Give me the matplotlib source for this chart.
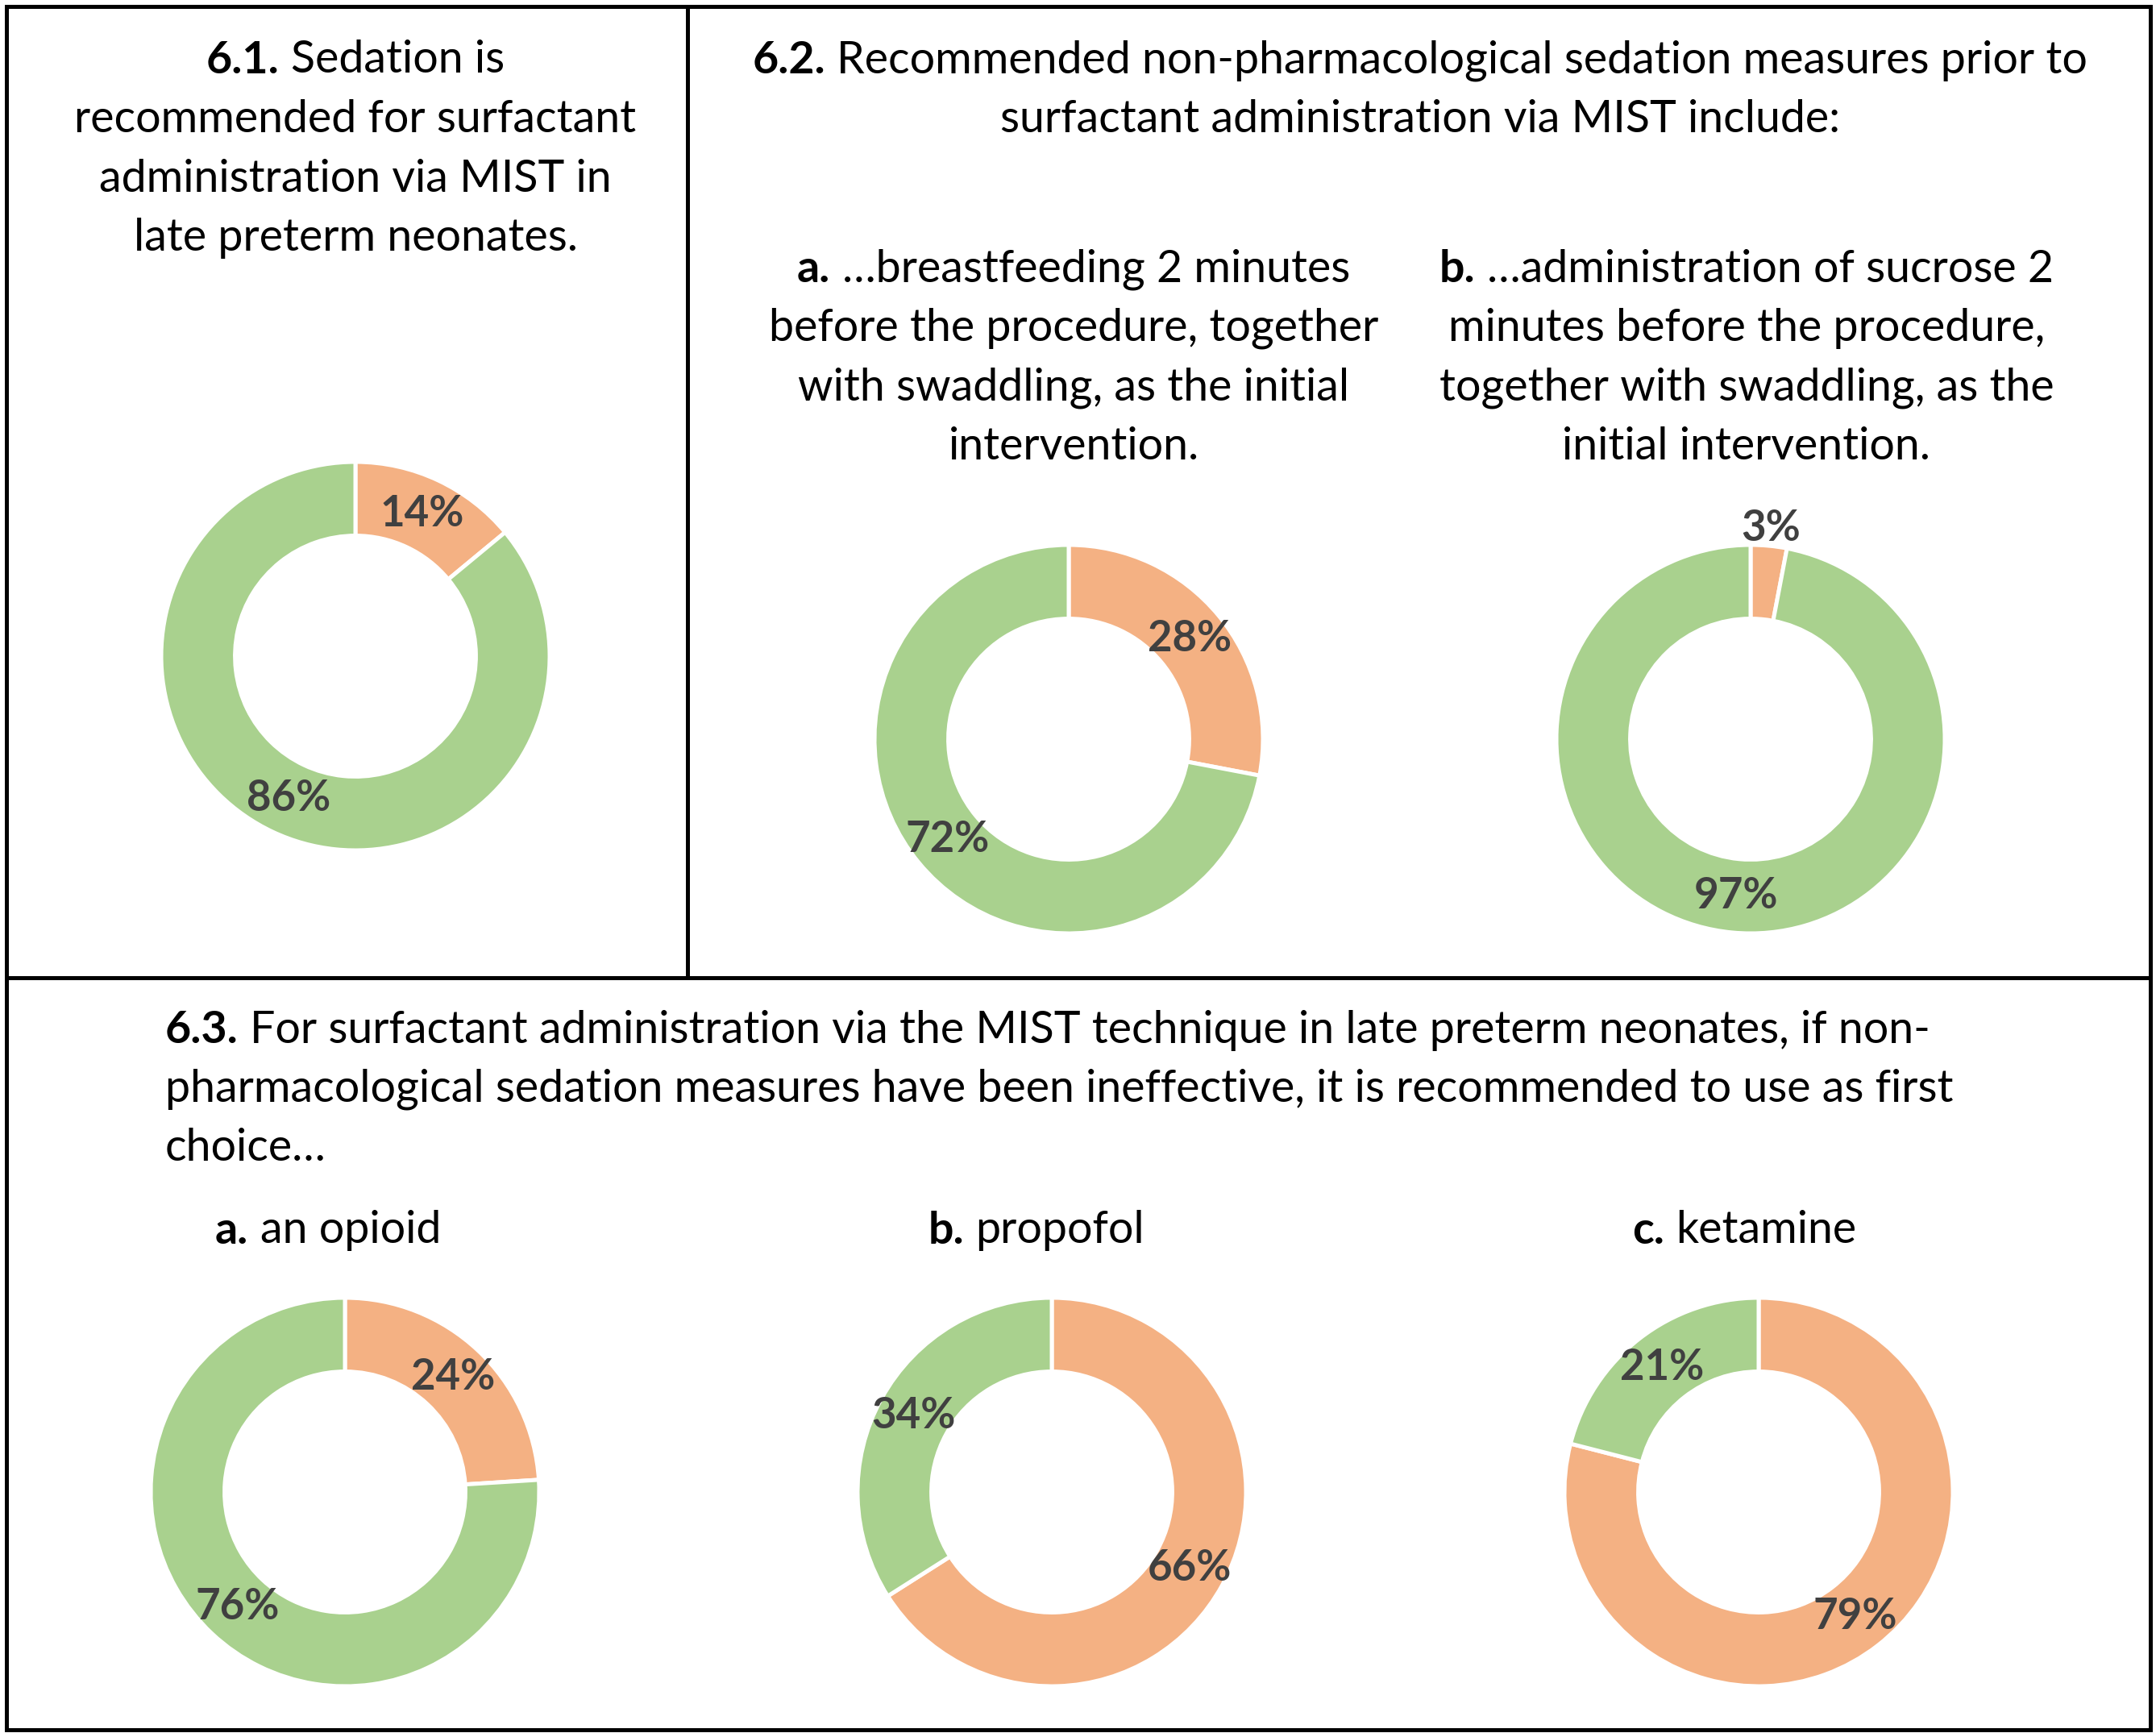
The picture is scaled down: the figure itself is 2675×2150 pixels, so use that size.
import numpy as np
import matplotlib
matplotlib.use('Agg')
import matplotlib.pyplot as plt

## Tamanho da figura em pixels (dpi = 100)
W, H = 2675, 2150
plt.rcParams['font.family'] = ['Lato', 'DejaVu Sans']

## Dados (percentagens) - laranja = discordo, verde = concordo
chart_names = ['6.1', '6.2a', '6.2b', '6.3a', '6.3b', '6.3c']
orange_share = [14, 28, 3, 24, 66, 79]
green_share = [86, 72, 97, 76, 34, 21]
slice_colors = ['#F4B183', '#A9D18E']
label_color = '#404040'

## Textos: (parte em negrito, resto)
title_61 = [('6.1.', 'Sedation is'),
            ('', 'recommended for surfactant'),
            ('', 'administration via MIST in'),
            ('', 'late preterm neonates.')]
title_62 = [('6.2.', 'Recommended non-pharmacological sedation measures prior to'),
            ('', 'surfactant administration via MIST include:')]
title_62a = [('a.', '…breastfeeding 2 minutes'),
             ('', 'before the procedure, together'),
             ('', 'with swaddling, as the initial'),
             ('', 'intervention.')]
title_62b = [('b.', '…administration of sucrose 2'),
             ('', 'minutes before the procedure,'),
             ('', 'together with swaddling, as the'),
             ('', 'initial intervention.')]
title_63 = [('6.3.', 'For surfactant administration via the MIST technique in late preterm neonates, if non-'),
            ('', 'pharmacological sedation measures have been ineffective, it is recommended to use as first'),
            ('', 'choice…')]
sub_63 = [('a.', 'an opioid'), ('b.', 'propofol'), ('c.', 'ketamine')]

## Layout (pixels)
centers = [(441, 814), (1326, 917), (2172, 917), (428, 1851), (1305, 1851), (2182, 1851)]
R = 241
hole = 0.62
line_step = 73.5
title_size = 40
pct_size = 38

fig = plt.figure(figsize=(W / 100, H / 100), dpi=100)
bg = fig.add_axes([0, 0, 1, 1])
bg.set_xlim(0, W)
bg.set_ylim(H, 0)
bg.axis('off')
renderer = fig.canvas.get_renderer()

## Bordas dos painéis
lw = 3.6
bg.plot([8, 2668, 2668, 8, 8], [8, 8, 2146, 2146, 8], color='black', lw=lw, solid_joinstyle='miter')
bg.plot([8, 2668], [1213, 1213], color='black', lw=lw)
bg.plot([853, 853], [8, 1213], color='black', lw=lw)


def text_width(s, weight='normal'):
    t = bg.text(0, 0, s, fontsize=title_size, fontweight=weight)
    w = t.get_window_extent(renderer).width
    t.remove()
    return w


space_w = text_width('x x') - text_width('xx')


def draw_line(bold, rest, x, y, ha='center'):
    w1 = text_width(bold, 'bold') + space_w if bold else 0
    w2 = text_width(rest)
    left = x - (w1 + w2) / 2 if ha == 'center' else x
    if bold:
        bg.text(left, y, bold, ha='left', va='center', fontsize=title_size, fontweight='bold')
    bg.text(left + w1, y, rest, ha='left', va='center', fontsize=title_size)


def draw_lines(lines, x, y0, ha='center'):
    for k, (b, r) in enumerate(lines):
        draw_line(b, r, x, y0 + k * line_step, ha)


draw_lines(title_61, 441, 75)
draw_lines(title_62, 1762, 75)
draw_lines(title_62a, 1332, 334)
draw_lines(title_62b, 2167, 334)
draw_lines(title_63, 205, 1278, ha='left')
for (b, r), x in zip(sub_63, [407, 1286, 2164]):
    draw_line(b, r, x, 1527)

## Rosquinhas
for i in range(len(chart_names)):
    cx, cy = centers[i]
    span = 1.3 * R
    ax = fig.add_axes([(cx - span) / W, 1 - (cy + span) / H, 2 * span / W, 2 * span / H])
    vals = [orange_share[i], green_share[i]]
    ax.pie(vals, colors=slice_colors, startangle=90, counterclock=False, radius=1,
           wedgeprops=dict(width=1 - hole, edgecolor='white', linewidth=3.6))
    ax.set_xlim(-1.3, 1.3)
    ax.set_ylim(-1.3, 1.3)
    ax.set_aspect('equal')
    ax.axis('off')
    start = 90.0
    for v in vals:
        mid = np.deg2rad(start - v * 3.6 / 2)
        dist = (1 + hole) / 2 if v >= 5 else 1.09
        ax.text(dist * np.cos(mid), dist * np.sin(mid), '%d%%' % v, ha='center', va='center',
                fontsize=pct_size, fontweight='bold', color=label_color)
        start -= v * 3.6

fig.savefig('out.png', dpi=100)
